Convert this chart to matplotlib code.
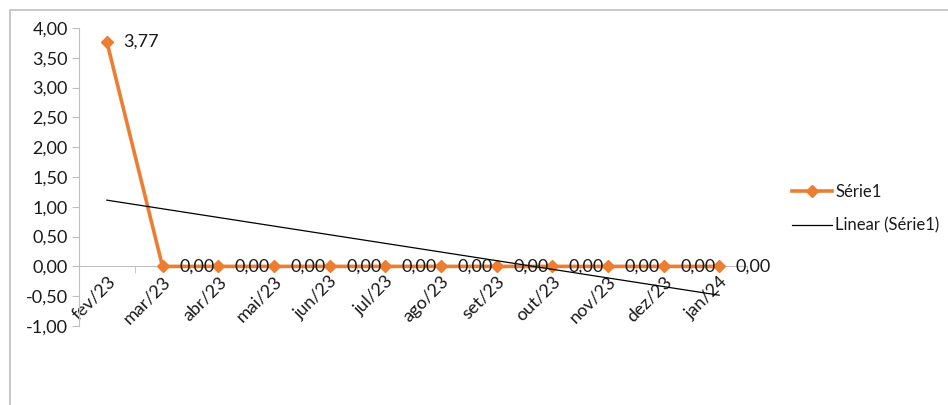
import matplotlib
matplotlib.use("Agg")
import matplotlib.pyplot as plt
import numpy as np
from matplotlib.ticker import FuncFormatter, FixedLocator
from matplotlib.lines import Line2D
from matplotlib.patches import Rectangle

plt.rcParams['font.family'] = ['Lato', 'DejaVu Sans']

categories = ["fev/23", "mar/23", "abr/23", "mai/23", "jun/23", "jul/23",
              "ago/23", "set/23", "out/23", "nov/23", "dez/23", "jan/24"]
values = [3.77, 0, 0, 0, 0, 0, 0, 0, 0, 0, 0, 0]
series_name = "Série1"
trend_name = "Linear (Série1)"

FS = 13

def fmt(v):
    return f"{v:.2f}".replace('.', ',')

fig = plt.figure(figsize=(9.48, 4.05), dpi=100)
ax = fig.add_axes([79/948, 79/405, (747-79)/948, (326-28)/405])

x = np.arange(len(categories))
orange = '#ED7D31'
ax.plot(x, values, color=orange, lw=2.6, marker='D', ms=6.5, zorder=3,
        solid_joinstyle='round')

# linear trendline
coef = np.polyfit(x + 1, values, 1)
ax.plot(x, np.polyval(coef, x + 1), color='black', lw=0.9, zorder=4)

for xi, v in zip(x, values):
    ax.annotate(fmt(v), (xi, v), xytext=(12, 0), textcoords='offset points',
                va='center', ha='left', fontsize=FS, color='#1a1a1a', zorder=5)

ax.set_xlim(-0.5, len(categories) - 0.5)
ax.set_ylim(-1, 4)
ax.yaxis.set_major_locator(FixedLocator(np.arange(-1, 4.01, 0.5)))
ax.yaxis.set_major_formatter(FuncFormatter(lambda v, p: fmt(v)))

ax.spines['top'].set_visible(False)
ax.spines['right'].set_visible(False)
ax.spines['left'].set_color('#BFBFBF')
ax.spines['bottom'].set_color('#BFBFBF')
ax.spines['bottom'].set_position(('data', 0))
ax.spines['bottom'].set_zorder(1)

ax.set_xticks(x)
ax.set_xticklabels(categories, rotation=45, ha='right', rotation_mode='anchor',
                   fontsize=FS, color='#1a1a1a')
ax.tick_params(axis='x', which='major', length=0, pad=5)
ax.set_xticks(np.arange(-0.5, len(categories)), minor=True)
ax.tick_params(axis='x', which='minor', length=5, color='#BFBFBF', direction='out')
ax.tick_params(axis='y', length=5, color='#BFBFBF', labelsize=FS, labelcolor='#1a1a1a', pad=3)

handles = [Line2D([], [], color=orange, lw=2.6, marker='D', ms=6.5),
           Line2D([], [], color='black', lw=0.9)]
fig.legend(handles, [series_name, trend_name], loc='center left',
           bbox_to_anchor=(777/948, 1 - 209/405), frameon=False, fontsize=12,
           handlelength=2.4, handletextpad=0.2, labelspacing=1.05,
           labelcolor='#1a1a1a')

fig.patches.append(Rectangle((9.5/948, -0.1), 1.2, (405 - 10.5)/405 + 0.1,
                             transform=fig.transFigure, fill=False,
                             edgecolor='#BFBFBF', lw=1.2))

fig.savefig('out.png', dpi=100, facecolor='white')
